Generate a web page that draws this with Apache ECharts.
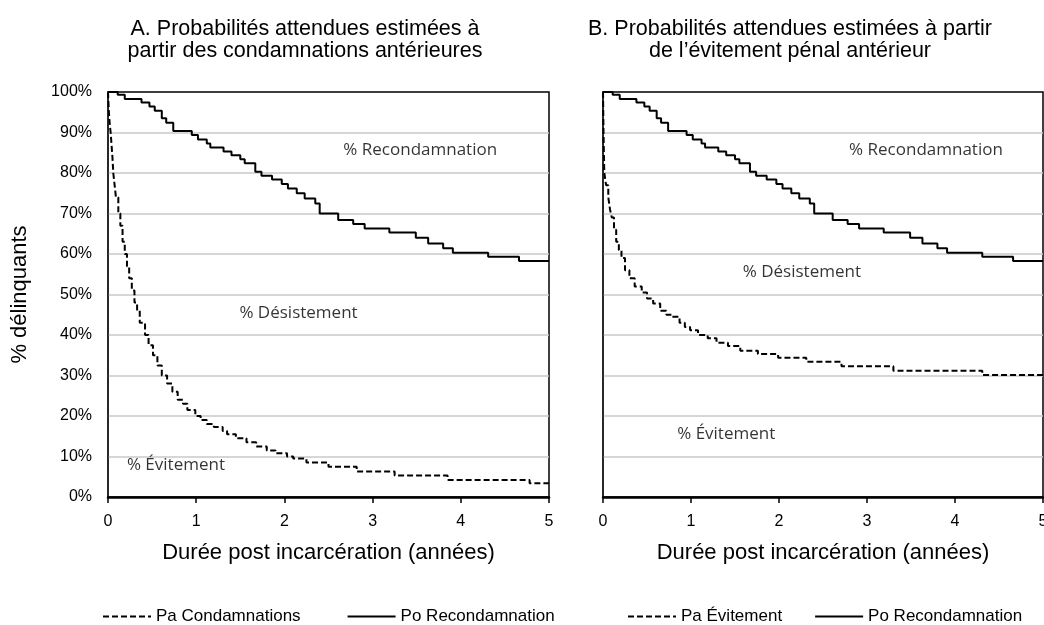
<!DOCTYPE html>
<html><head><meta charset="utf-8">
<script src="https://cdn.jsdelivr.net/npm/echarts@6/dist/echarts.min.js"></script>
<style>html,body{margin:0;padding:0;background:#fff}#c{width:1044px;height:625px}</style>
</head><body><div id="c"></div><script>
// ---- data ----
const xMin = 0, xMax = 5, xStep = 1;
const yMin = 0, yMax = 100, yStep = 10;
// Po Recondamnation (same in both panels): [years, %]
const poRecond = [[0,100],[0.11,99.3],[0.19,98.3],[0.38,97.4],[0.47,96.4],[0.53,95.4],[0.61,93.5],[0.66,92.4],[0.74,90.4],[0.95,89.4],[1.02,88.3],[1.12,87.3],[1.16,86.3],[1.31,85.3],[1.40,84.4],[1.50,83.4],[1.55,82.4],[1.67,80.3],[1.74,79.3],[1.86,78.4],[1.97,77.3],[2.04,76.2],[2.14,75.0],[2.23,73.7],[2.35,72.5],[2.40,70.0],[2.61,68.4],[2.78,67.4],[2.91,66.3],[3.19,65.3],[3.49,64.0],[3.63,62.6],[3.80,61.4],[3.91,60.3],[4.31,59.3],[4.66,58.3],[5,58.3]];
// Pa Condamnations (panel A)
const paCond = [[0,100],[0.01,95],[0.02,92],[0.03,90],[0.04,87],[0.05,84],[0.06,80],[0.075,77],[0.09,74],[0.117,70],[0.14,67],[0.165,63],[0.19,60],[0.215,57],[0.24,54],[0.27,51],[0.3,48],[0.33,46],[0.36,43],[0.42,40],[0.46,37.5],[0.51,35],[0.56,32.5],[0.61,30],[0.67,28],[0.73,26],[0.79,24],[0.85,23],[0.9,21.5],[0.99,20],[1.05,19],[1.12,18],[1.2,17.3],[1.3,16.3],[1.35,15.5],[1.45,14.5],[1.57,13.5],[1.68,12.5],[1.8,11.5],[1.9,10.8],[2.03,10],[2.1,9.5],[2.25,8.5],[2.5,7.5],[2.82,6.3],[3.25,5.3],[3.85,4.2],[4.78,3.4],[5,3.4]];
// Pa Évitement (panel B)
const paEvit = [[0,100],[0.003,95],[0.006,90],[0.01,85],[0.015,80],[0.035,77],[0.06,74],[0.08,71],[0.1,69],[0.125,66],[0.15,63],[0.18,61],[0.21,59],[0.25,56],[0.3,54],[0.36,52],[0.44,50.5],[0.5,49],[0.57,47.8],[0.65,46],[0.72,45],[0.78,44.5],[0.87,43],[0.93,42],[0.99,41.2],[1.08,40],[1.19,39.2],[1.29,38.1],[1.42,37.3],[1.56,36.1],[1.76,35.3],[1.99,34.4],[2.31,33.4],[2.71,32.3],[3.3,31.2],[4.31,30.1],[5,30.1]];
const titles = ['A. Probabilités attendues estimées à\npartir des condamnations antérieures',
                'B. Probabilités attendues estimées à partir\nde l\u2019évitement pénal antérieur'];
const xName = 'Durée post incarcération (années)';
const yName = '% délinquants';
const seriesNames = ['Pa Condamnations','Po Recondamnation','Pa Évitement','Po Recondamnation'];
const notesA = [['% Recondamnation',3.54,85.7],['% Désistement',2.16,45.5],['% Évitement',0.77,7.9]];
const notesB = [['% Recondamnation',3.67,85.7],['% Désistement',2.26,55.6],['% Évitement',1.40,15.6]];

// ---- chart ----
const FONT = 'Liberation Sans, Arial, sans-serif';
const chart = echarts.init(document.getElementById('c'), null, {renderer:'canvas'});
function xAxis(i){
  return {gridIndex:i,type:'value',min:xMin,max:xMax,interval:xStep,
    name:xName,nameLocation:'middle',nameGap:45,
    nameTextStyle:{fontFamily:FONT,fontSize:22,color:'#000'},
    axisLine:{show:true,onZero:false,lineStyle:{color:'#000',width:2.5}},
    axisTick:{show:true,inside:false,length:6,lineStyle:{color:'#000',width:1.5}},
    axisLabel:{fontFamily:FONT,fontSize:16,color:'#000',margin:17,hideOverlap:false},
    splitLine:{show:false}};
}
function yAxis(i){
  return {gridIndex:i,type:'value',min:yMin,max:yMax,interval:yStep,
    name:i===0?yName:'',nameLocation:'middle',nameGap:77,nameRotate:90,
    nameTextStyle:{fontFamily:FONT,fontSize:22,color:'#000'},
    axisLine:{show:true,lineStyle:{color:'#222',width:1.5}},
    axisTick:{show:false},
    axisLabel:{show:i===0,fontFamily:FONT,fontSize:16,color:'#000',margin:16,formatter:'{value}%'},
    splitLine:{show:true,showMaxLine:false,showMinLine:false,lineStyle:{color:'#c8c8c8',width:1.5}}};
}
function line(name,data,i,dashed){
  return {name:name,type:'line',xAxisIndex:i,yAxisIndex:i,data:data,step:'end',
    symbol:'none',showSymbol:false,silent:true,animation:false,
    lineStyle:{color:'#000',width:2,type:dashed?[6,3]:'solid'},itemStyle:{color:'#000'}};
}
function notes(arr,i){
  return {type:'scatter',xAxisIndex:i,yAxisIndex:i,symbolSize:0,silent:true,animation:false,
    data:arr.map(a=>({name:a[0],value:[a[1],a[2]]})),
    label:{show:true,position:'inside',formatter:'{b}',fontFamily:'Open Sans, sans-serif',fontSize:17,color:'#000'}};
}
const legendCommon = {top:603,itemWidth:48,itemHeight:14,
  itemStyle:{opacity:0,borderWidth:0},
  textStyle:{fontFamily:FONT,fontSize:17,color:'#000'}};
const option = {
  backgroundColor:'#fff',
  animation:false,
  grid:[
    {left:108,right:1044-549,top:92,bottom:625-497,show:true,borderColor:'#000',borderWidth:1.5,backgroundColor:'transparent',outerBoundsMode:'none',containLabel:false},
    {left:603,right:1,top:92,bottom:625-497,show:true,borderColor:'#000',borderWidth:1.5,backgroundColor:'transparent',outerBoundsMode:'none',containLabel:false}
  ],
  xAxis:[xAxis(0),xAxis(1)],
  yAxis:[yAxis(0),yAxis(1)],
  legend:[
    Object.assign({data:[seriesNames[0],seriesNames[1]],left:97,itemGap:46},legendCommon),
    Object.assign({data:[seriesNames[2],seriesNames[3]],left:622,itemGap:32},legendCommon)
  ],
  graphic:[
    {type:'text',x:305,y:18,style:{text:titles[0],fill:'#000',font:'21.5px '+FONT,textAlign:'center',textVerticalAlign:'top',lineHeight:22}},
    {type:'text',x:790,y:18,style:{text:titles[1],fill:'#000',font:'21.5px '+FONT,textAlign:'center',textVerticalAlign:'top',lineHeight:22}}
  ],
  series:[
    line(seriesNames[0],paCond,0,true),
    line(seriesNames[1],poRecond,0,false),
    line(seriesNames[2],paEvit,1,true),
    line(seriesNames[3],poRecond,1,false),
    notes(notesA,0),notes(notesB,1)
  ]
};
chart.setOption(option);
</script></body></html>
